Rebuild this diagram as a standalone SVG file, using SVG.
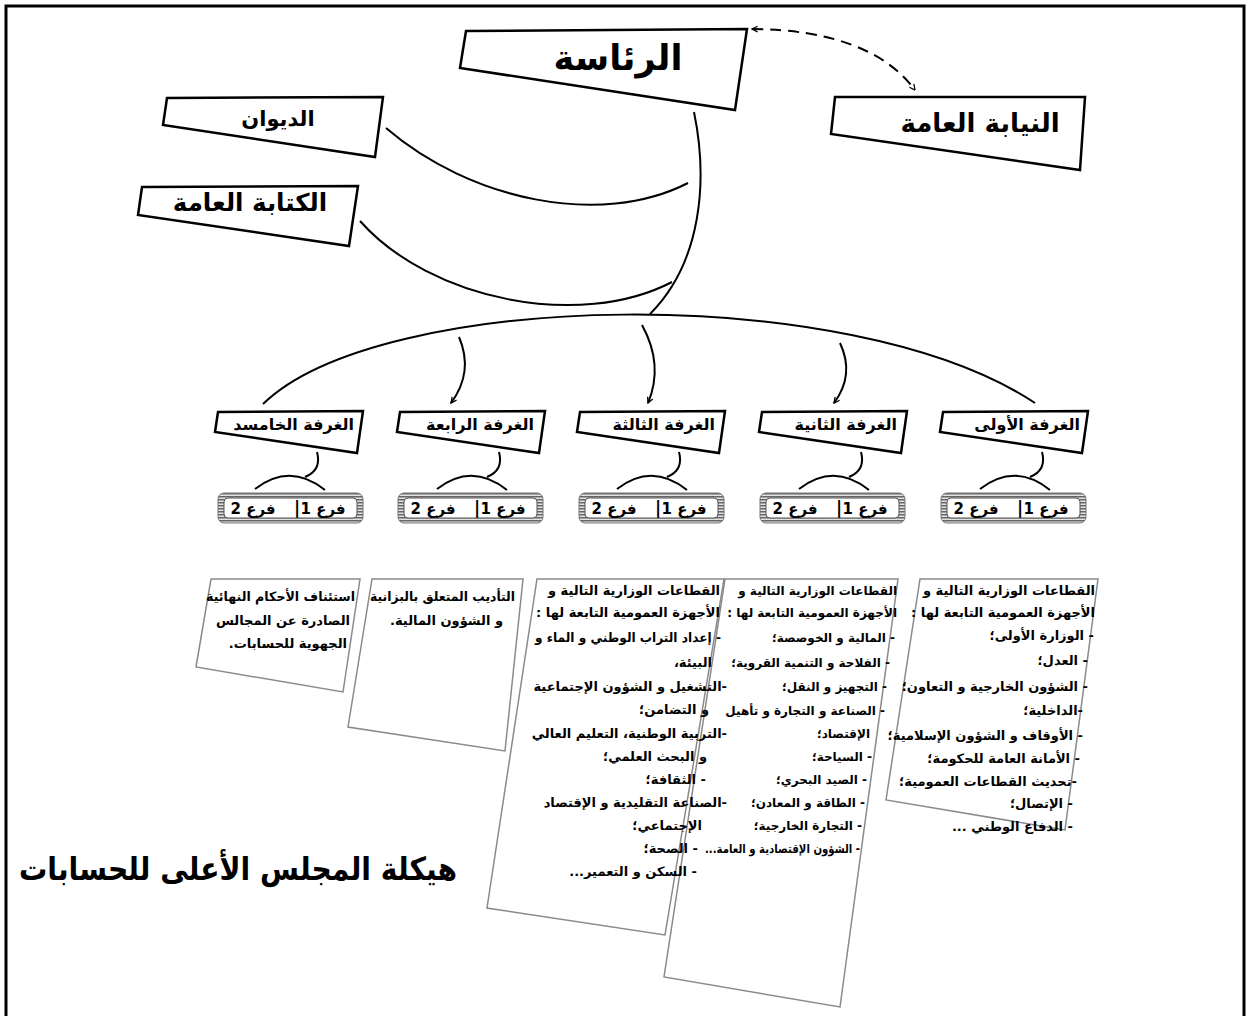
<svg xmlns="http://www.w3.org/2000/svg" width="1250" height="1016" viewBox="0 0 1250 1016">
<defs>
<style>
.ar{font-family:'DejaVu Sans','Noto Sans',sans-serif;direction:rtl;unicode-bidi:embed;fill:#000}
.box{fill:#fff;stroke:#000;stroke-width:2.5;stroke-linejoin:miter}
.page{fill:#fff;stroke:#8a8a8a;stroke-width:1.5}
.ln{fill:none;stroke:#000;stroke-width:2}
.body{font-size:13px;font-weight:bold;text-anchor:start}
.body2{font-size:12px;font-weight:bold;text-anchor:start}
.ch{font-size:16px;font-weight:bold;text-anchor:start}
.br{font-size:15px;font-weight:bold;text-anchor:middle}
.bar{font-family:'DejaVu Sans',sans-serif;font-weight:bold;font-size:17px;text-anchor:middle}
</style>
<pattern id="stripes" width="4" height="3" patternUnits="userSpaceOnUse">
<rect width="4" height="3" fill="#e2e2e2"/>
<rect width="4" height="1.5" fill="#666"/>
</pattern>
<marker id="ah" viewBox="0 0 10 10" refX="9" refY="5" markerWidth="7" markerHeight="7" markerUnits="userSpaceOnUse" orient="auto-start-reverse">
<path d="M1,1 L9,5 L1,9" fill="none" stroke="#000" stroke-width="1.8"/>
</marker>
<g id="pill">
<rect x="0" y="0" width="145" height="30" rx="6" fill="url(#stripes)" stroke="#777" stroke-width="1"/>
<rect x="6" y="5" width="133" height="20" rx="4" fill="#fff" stroke="#555" stroke-width="1"/>
</g>
</defs>
<rect x="6" y="6" width="1238" height="1040" fill="#fff" stroke="#000" stroke-width="3"/>

<g id="connectors">
<path class="ln" d="M752,29 Q870,30 915,90" stroke-dasharray="11 7" marker-start="url(#ah)" marker-end="url(#ah)"/>
<path class="ln" d="M694,112 C708,180 702,262 650,314"/>
<path class="ln" d="M386,128 C470,200 600,228 688,183"/>
<path class="ln" d="M360,221 C430,300 580,330 672,282"/>
<path class="ln" d="M263,404 C380,290 850,280 1035,403" stroke-width="3"/>
<path class="ln" d="M459,337 Q474,372 451,403" stroke-width="1.8" marker-end="url(#ah)"/>
<path class="ln" d="M642,325 Q664,365 648,403" stroke-width="1.8" marker-end="url(#ah)"/>
<path class="ln" d="M840,343 Q855,375 834,403" stroke-width="1.8" marker-end="url(#ah)"/>
<g stroke-width="1.8">
<path class="ln" d="M317,452 Q322,470 305,477"/><path class="ln" d="M255,489 Q290,462 325,490"/>
<path class="ln" d="M499,452 Q504,470 487,477"/><path class="ln" d="M437,489 Q472,462 507,490"/>
<path class="ln" d="M679,452 Q684,470 667,477"/><path class="ln" d="M617,489 Q652,462 687,490"/>
<path class="ln" d="M861,452 Q866,470 849,477"/><path class="ln" d="M799,489 Q834,462 869,490"/>
<path class="ln" d="M1042,452 Q1047,470 1030,477"/><path class="ln" d="M980,489 Q1015,462 1050,490"/>
</g>
</g>

<g id="node-presidency">
<polygon class="box" points="466,31 747,29 735,110 460,68"/>
<text class="ar" x="618" y="70" font-size="35" font-weight="bold" text-anchor="middle">الرئاسة</text>
</g>
<g id="node-prosecution">
<polygon class="box" points="835,97 1085,97 1080,170 831,134"/>
<text class="ar" x="980" y="132" font-size="26" font-weight="bold" text-anchor="middle">النيابة العامة</text>
</g>
<g id="node-diwan">
<polygon class="box" points="167,98 383,97 375,157 163,125"/>
<text class="ar" x="278" y="126" font-size="21" font-weight="bold" text-anchor="middle">الديوان</text>
</g>
<g id="node-secretariat">
<polygon class="box" points="142,187 358,186 349,246 138,215"/>
<text class="ar" x="250" y="211" font-size="24.5" font-weight="bold" text-anchor="middle">الكتابة العامة</text>
</g>

<g id="node-chamber5">
<polygon class="box" points="218,412 363,411 357,453 215,432"/>
<text class="ar ch" x="354" y="430">الغرفة الخامسد</text>
</g>
<g id="node-chamber4">
<polygon class="box" points="400,412 545,411 539,453 397,432"/>
<text class="ar ch" x="534" y="430">الغرفة الرابعة</text>
</g>
<g id="node-chamber3">
<polygon class="box" points="580,412 725,411 719,453 577,432"/>
<text class="ar ch" x="715" y="430">الغرفة الثالثة</text>
</g>
<g id="node-chamber2">
<polygon class="box" points="762,412 907,411 901,453 759,432"/>
<text class="ar ch" x="897" y="430">الغرفة الثانية</text>
</g>
<g id="node-chamber1">
<polygon class="box" points="943,412 1088,411 1082,453 940,432"/>
<text class="ar ch" x="1080" y="430">الغرفة الأولى</text>
</g>

<g id="node-branches5">
<use href="#pill" x="218" y="493"/>
<text class="ar br" x="323" y="514">فرع 1</text><text class="bar" x="297" y="514">|</text><text class="ar br" x="253" y="514">فرع 2</text>
</g>
<g id="node-branches4">
<use href="#pill" x="398" y="493"/>
<text class="ar br" x="503" y="514">فرع 1</text><text class="bar" x="477" y="514">|</text><text class="ar br" x="433" y="514">فرع 2</text>
</g>
<g id="node-branches3">
<use href="#pill" x="579" y="493"/>
<text class="ar br" x="684" y="514">فرع 1</text><text class="bar" x="658" y="514">|</text><text class="ar br" x="614" y="514">فرع 2</text>
</g>
<g id="node-branches2">
<use href="#pill" x="760" y="493"/>
<text class="ar br" x="865" y="514">فرع 1</text><text class="bar" x="839" y="514">|</text><text class="ar br" x="795" y="514">فرع 2</text>
</g>
<g id="node-branches1">
<use href="#pill" x="941" y="493"/>
<text class="ar br" x="1046" y="514">فرع 1</text><text class="bar" x="1020" y="514">|</text><text class="ar br" x="976" y="514">فرع 2</text>
</g>

<g id="node-list1">
<polygon class="page" points="920,579 1098,579 1065,830 886,800"/>
<g class="ar body">
<text x="1095" y="595">القطاعات الوزارية التالية و</text>
<text x="1095" y="617">الأجهزة العمومية التابعة لها :</text>
<text x="1094" y="640">- الوزارة الأولى؛</text>
<text x="1088" y="665">- العدل؛</text>
<text x="1088" y="691">- الشؤون الخارجية و التعاون؛</text>
<text x="1083" y="715">-الداخلية؛</text>
<text x="1083" y="740">- الأوقاف و الشؤون الإسلامية؛</text>
<text x="1080" y="763">- الأمانة العامة للحكومة؛</text>
<text x="1077" y="786">-تحديث القطاعات العمومية؛</text>
<text x="1073" y="808">- الإتصال؛</text>
<text x="1073" y="831">- الدفاع الوطني ...</text>
</g>
</g>
<g id="node-list2">
<polygon class="page" points="725,579 898,579 840,1007 664,977"/>
<g class="ar body2">
<text x="897" y="595">القطاعات الوزارية التالية و</text>
<text x="897" y="617">الأجهزة العمومية التابعة لها :</text>
<text x="895" y="642">- المالية و الخوصصة؛</text>
<text x="890" y="667">- الفلاحة و التنمية القروية؛</text>
<text x="887" y="691">- التجهيز و النقل؛</text>
<text x="885" y="715">- الصناعة و التجارة و تأهيل</text>
<text x="870" y="738">الإقتصاد؛</text>
<text x="872" y="761">- السياحة؛</text>
<text x="867" y="784">- الصيد البحري؛</text>
<text x="865" y="807">- الطاقة و المعادن؛</text>
<text x="862" y="830">- التجارة الخارجية؛</text>
<text x="860" y="853" textLength="155" lengthAdjust="spacingAndGlyphs">- الشؤون الإقتصادية و العامة...</text>
</g>
</g>
<g id="node-list3">
<polygon class="page" points="537,579 724,579 665,935 487,908"/>
<g class="ar body">
<text x="720" y="595">القطاعات الوزارية التالية و</text>
<text x="720" y="617">الأجهزة العمومية التابعة لها :</text>
<text x="721" y="642" textLength="186" lengthAdjust="spacingAndGlyphs">- إعداد التراب الوطني و الماء و</text>
<text x="712" y="667">البيئة،</text>
<text x="727" y="691">-التشغيل و الشؤون الإجتماعية</text>
<text x="709" y="714">و التضامن؛</text>
<text x="727" y="738">-التربية الوطنية، التعليم العالي</text>
<text x="707" y="761">و البحث العلمي؛</text>
<text x="706" y="784">- الثقافة؛</text>
<text x="727" y="807">-الصناعة التقليدية و الإقتصاد</text>
<text x="702" y="830">الإجتماعي؛</text>
<text x="698" y="853">- الصحة؛</text>
<text x="697" y="876">- السكن و التعمير...</text>
</g>
</g>
<g id="node-list4">
<polygon class="page" points="372,579 523,579 505,751 348,727"/>
<g class="ar body">
<text x="515" y="601" textLength="145" lengthAdjust="spacingAndGlyphs">التأديب المتعلق بالبزانية</text>
<text x="503" y="625">و الشؤون المالية.</text>
</g>
</g>
<g id="node-list5">
<polygon class="page" points="211,579 360,579 343,692 196,667"/>
<g class="ar body">
<text x="355" y="601" textLength="149" lengthAdjust="spacingAndGlyphs">استئناف الأحكام النهائية</text>
<text x="350" y="625">الصادرة عن المجالس</text>
<text x="347" y="648">الجهوية للحسابات.</text>
</g>
</g>

<g id="title">
<text class="ar" x="457" y="880" font-size="32" font-weight="bold" textLength="438" lengthAdjust="spacingAndGlyphs">هيكلة المجلس الأعلى للحسابات</text>
</g>
</svg>
